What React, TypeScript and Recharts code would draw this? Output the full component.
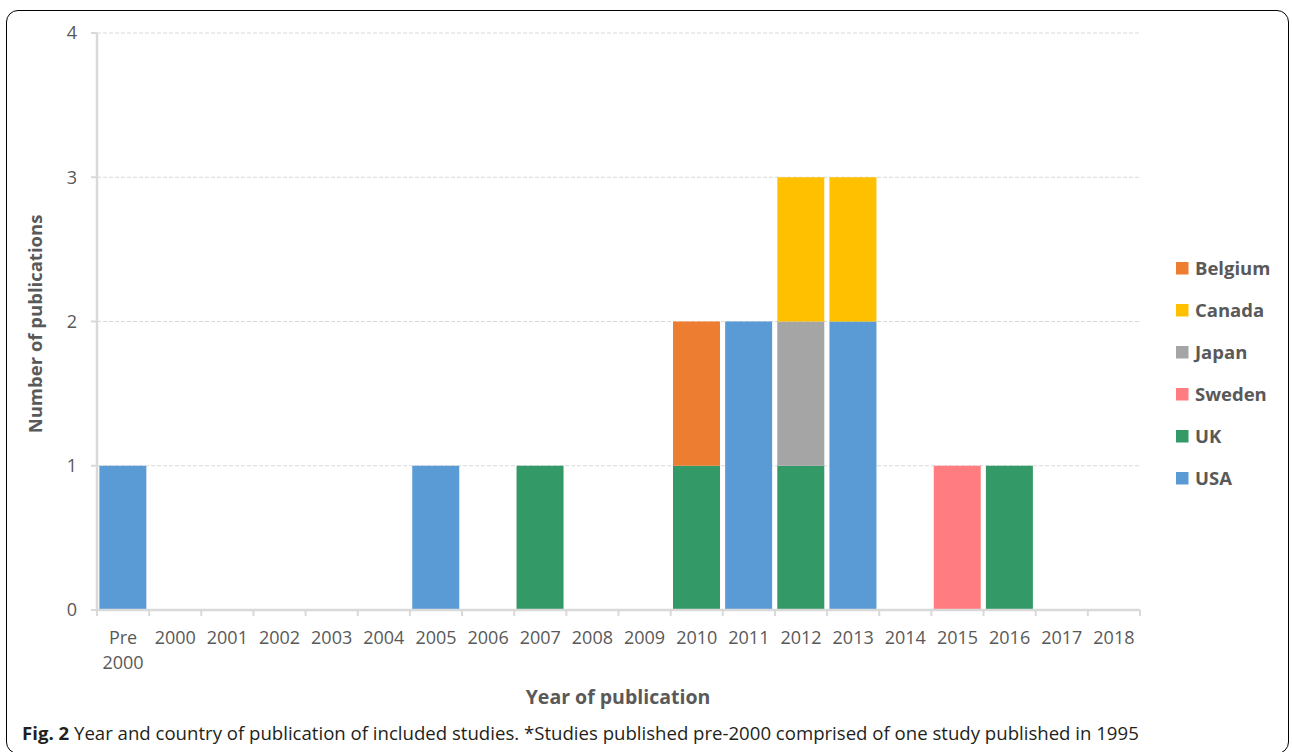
import React from 'react'
import { Bar, BarChart, CartesianGrid, XAxis, YAxis } from 'recharts'

const years = [
  'Pre 2000', '2000', '2001', '2002', '2003', '2004', '2005', '2006', '2007', '2008',
  '2009', '2010', '2011', '2012', '2013', '2014', '2015', '2016', '2017', '2018',
]

// publications per country, one value per year above
const usa = [1, 0, 0, 0, 0, 0, 1, 0, 0, 0, 0, 0, 2, 0, 2, 0, 0, 0, 0, 0]
const uk = [0, 0, 0, 0, 0, 0, 0, 0, 1, 0, 0, 1, 0, 1, 0, 0, 0, 1, 0, 0]
const sweden = [0, 0, 0, 0, 0, 0, 0, 0, 0, 0, 0, 0, 0, 0, 0, 0, 1, 0, 0, 0]
const japan = [0, 0, 0, 0, 0, 0, 0, 0, 0, 0, 0, 0, 0, 1, 0, 0, 0, 0, 0, 0]
const canada = [0, 0, 0, 0, 0, 0, 0, 0, 0, 0, 0, 0, 0, 1, 1, 0, 0, 0, 0, 0]
const belgium = [0, 0, 0, 0, 0, 0, 0, 0, 0, 0, 0, 1, 0, 0, 0, 0, 0, 0, 0, 0]

const yTicks = [0, 1, 2, 3, 4]

// stacking order, bottom to top
const series = [
  { key: 'USA', values: usa, color: '#5B9BD5' },
  { key: 'UK', values: uk, color: '#339966' },
  { key: 'Sweden', values: sweden, color: '#FF7C80' },
  { key: 'Japan', values: japan, color: '#A5A5A5' },
  { key: 'Canada', values: canada, color: '#FFC000' },
  { key: 'Belgium', values: belgium, color: '#ED7D31' },
]

const data = years.map((year, i) => {
  const row: Record<string, string | number> = { year }
  series.forEach((s) => { row[s.key] = s.values[i] })
  return row
})

const axisColor = '#d9d9d9'
const textColor = '#595959'
const font = '"Open Sans", sans-serif'

const XTick = (props: any) => {
  const { x, y, payload, width, visibleTicksCount, index } = props
  const half = payload.offset ?? width / visibleTicksCount / 2
  const lines = String(payload.value).split(' ')
  return (
    <g>
      <line x1={x - half} x2={x - half} y1={y - 6} y2={y} stroke={axisColor} strokeWidth={2} />
      {index === visibleTicksCount - 1 && (
        <line x1={x + half} x2={x + half} y1={y - 6} y2={y} stroke={axisColor} strokeWidth={2} />
      )}
      <text x={x} y={y + 28} textAnchor="middle" fill={textColor} fontSize={18} fontFamily={font}>
        {lines.map((l, i) => (
          <tspan key={i} x={x} dy={i === 0 ? 0 : 25}>{l}</tspan>
        ))}
      </text>
    </g>
  )
}

const App = () => {
  return (
    <div style={{ position: 'absolute', left: 0, top: 0, width: 1292, height: 752, overflow: 'hidden', background: '#fff' }}>
      <div style={{
        position: 'absolute', left: 6, top: 10, width: 1281, height: 742,
        border: '1.5px solid #000', borderRadius: 12,
      }} />
      <BarChart
        width={1292}
        height={752}
        data={data}
        margin={{ top: 33, right: 152, bottom: 112, left: 37 }}
        barCategoryGap="4.5%"
        style={{ position: 'absolute', left: 0, top: 0 }}
      >
        <CartesianGrid vertical={false} stroke={axisColor} strokeDasharray="4 2" />
        <XAxis
          dataKey="year"
          interval={0}
          height={30}
          tickSize={6}
          tickMargin={0}
          tickLine={false}
          axisLine={{ stroke: axisColor, strokeWidth: 2.5 }}
          tick={<XTick />}
        />
        <YAxis
          width={60}
          domain={[0, 4]}
          ticks={yTicks}
          allowDecimals={false}
          tickSize={6}
          tickMargin={14}
          tickLine={{ stroke: axisColor, strokeWidth: 2 }}
          axisLine={{ stroke: axisColor, strokeWidth: 2.5 }}
          tick={{ fill: textColor, fontSize: 18, fontFamily: font }}
        />
        {series.map((s) => (
          <Bar key={s.key} dataKey={s.key} stackId="a" fill={s.color} isAnimationActive={false} />
        ))}
      </BarChart>
      <svg width={1292} height={752} style={{ position: 'absolute', left: 0, top: 0, pointerEvents: 'none' }}>
        <text
          transform="translate(42, 324) rotate(-90)"
          textAnchor="middle"
          fill={textColor}
          fontSize={18.5}
          fontWeight="bold"
          fontFamily={font}
        >
          Number of publications
        </text>
        <text x={618} y={704} textAnchor="middle" fill={textColor} fontSize={19.5} fontWeight="bold" fontFamily={font}>
          Year of publication
        </text>
        {[...series].reverse().map((s, i) => (
          <g key={s.key}>
            <rect x={1176} y={262 + i * 42} width={12.5} height={12.5} fill={s.color} />
            <text x={1195} y={275 + i * 42} fill={textColor} fontSize={18.5} fontWeight="bold" fontFamily={font}>
              {s.key}
            </text>
          </g>
        ))}
        <text x={22} y={740} fill="#231f20" fontSize={18.6} fontFamily={font}>
          <tspan fontWeight="bold">Fig. 2</tspan>
          {' Year and country of publication of included studies. *Studies published pre-2000 comprised of one study published in 1995'}
        </text>
      </svg>
    </div>
  )
}

export default App
